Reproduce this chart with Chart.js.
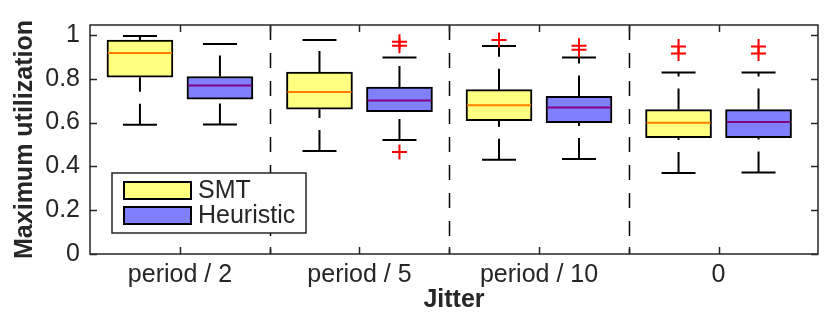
<!DOCTYPE html>
<html><head><meta charset="utf-8">
<script src="https://cdn.jsdelivr.net/npm/chart.js@4/dist/chart.umd.min.js"></script>
<style>html,body{margin:0;padding:0;background:#fff}#wrap{width:830px;height:313px}</style>
</head><body><div id="wrap"><canvas id="c" width="830" height="313"></canvas></div>
<script>
// ---- data ----
const categories = ['period / 2', 'period / 5', 'period / 10', '0'];
const seriesNames = ['SMT', 'Heuristic'];
const yTickValues = [0, 0.2, 0.4, 0.6, 0.8, 1];
const yTickLabels = ['0', '0.2', '0.4', '0.6', '0.8', '1'];

const smtLowerWhisker = [0.59, 0.47, 0.43, 0.37];
const smtQ1           = [0.807, 0.661, 0.608, 0.531];
const smtMedian       = [0.917, 0.739, 0.679, 0.599];
const smtQ3           = [0.976, 0.83, 0.75, 0.659];
const smtUpperWhisker = [0.995, 0.976, 0.949, 0.828];
const smtOutliers     = [[], [], [0.976], [0.947, 0.915]];

const heurLowerWhisker = [0.591, 0.52, 0.434, 0.372];
const heurQ1           = [0.706, 0.649, 0.599, 0.531];
const heurMedian       = [0.769, 0.701, 0.668, 0.602];
const heurQ3           = [0.81, 0.762, 0.719, 0.659];
const heurUpperWhisker = [0.958, 0.897, 0.897, 0.828];
const heurOutliers     = [[], [0.968, 0.95, 0.466], [0.95, 0.932], [0.947, 0.915]];

// ---- styling / layout ----
const FONT = "'Liberation Sans', Arial, Helvetica, sans-serif";
const INK = '#262626';
const FS = 25;
const GROUP_OFFSET = 0.2228;   // box position relative to group centre (x units)
const MED_HALF = 0.178;
const CAP_HALF = 0.0947;
const separators = [0.5, 1.5, 2.5];
const xMinorTicks = [0, 0.5, 1, 1.5, 2, 2.5, 3];

const series = [
  {name: seriesNames[0], lo: smtLowerWhisker, q1: smtQ1, med: smtMedian, q3: smtQ3, hi: smtUpperWhisker, out: smtOutliers,
   fill: '#ffff80', medColor: '#ff8000', offset: -GROUP_OFFSET},
  {name: seriesNames[1], lo: heurLowerWhisker, q1: heurQ1, med: heurMedian, q3: heurQ3, hi: heurUpperWhisker, out: heurOutliers,
   fill: '#8080ff', medColor: '#800080', offset: GROUP_OFFSET}
];

const datasets = [];
series.forEach(s => {
  datasets.push({
    type: 'bar', label: s.name,
    data: categories.map((c, i) => ({x: i + s.offset, y: [s.q1[i], s.q3[i]]})),
    backgroundColor: s.fill, borderColor: '#000', borderWidth: 2, borderSkipped: false,
    barThickness: 66, grouped: false, order: 5
  });
  const med = [], whisk = [], caps = [], outs = [];
  categories.forEach((c, i) => {
    const p = i + s.offset;
    med.push({x: p - MED_HALF, y: s.med[i]}, {x: p + MED_HALF, y: s.med[i]}, {x: p, y: null});
    whisk.push({x: p, y: s.lo[i]}, {x: p, y: s.q1[i]}, {x: p, y: null},
               {x: p, y: s.q3[i]}, {x: p, y: s.hi[i]}, {x: p, y: null});
    caps.push({x: p - CAP_HALF, y: s.lo[i]}, {x: p + CAP_HALF, y: s.lo[i]}, {x: p, y: null},
              {x: p - CAP_HALF, y: s.hi[i]}, {x: p + CAP_HALF, y: s.hi[i]}, {x: p, y: null});
    s.out[i].forEach(v => outs.push({x: p, y: v}));
  });
  datasets.push({type: 'line', label: s.name + ' median', data: med, borderColor: s.medColor, borderWidth: 2,
    pointRadius: 0, spanGaps: false, tension: 0, fill: false, order: 1});
  datasets.push({type: 'line', label: s.name + ' whiskers', data: whisk, borderColor: '#000', borderWidth: 2,
    borderDash: [21, 12], pointRadius: 0, spanGaps: false, tension: 0, fill: false, order: 3});
  datasets.push({type: 'line', label: s.name + ' caps', data: caps, borderColor: '#000', borderWidth: 2,
    pointRadius: 0, spanGaps: false, tension: 0, fill: false, order: 2});
  datasets.push({type: 'scatter', label: s.name + ' outliers', data: outs, showLine: false,
    pointStyle: 'cross', pointRadius: 7.5, pointBorderColor: '#ff0000', pointBorderWidth: 2,
    borderColor: '#ff0000', backgroundColor: '#ff0000', order: 0});
});

const decor = {
  id: 'decor',
  beforeDatasetsDraw(chart) {
    const {ctx, chartArea: a, scales: {x}} = chart;
    ctx.save();
    ctx.strokeStyle = '#000'; ctx.lineWidth = 1.5; ctx.setLineDash([15, 13]);
    separators.forEach(v => {
      const px = Math.round(x.getPixelForValue(v)) + 0.5;
      ctx.beginPath(); ctx.moveTo(px, a.top); ctx.lineTo(px, a.bottom); ctx.stroke();
    });
    ctx.restore();
  },
  afterDraw(chart) {
    const {ctx, chartArea: a, scales: {x, y}} = chart;
    ctx.save();
    ctx.strokeStyle = INK; ctx.lineWidth = 1.5; ctx.setLineDash([]);
    ctx.strokeRect(a.left, a.top, a.right - a.left, a.bottom - a.top);
    const TL = 7;
    ctx.beginPath();
    yTickValues.forEach(v => {
      const py = Math.round(y.getPixelForValue(v)) + 0.5;
      ctx.moveTo(a.left, py); ctx.lineTo(a.left + TL, py);
      ctx.moveTo(a.right, py); ctx.lineTo(a.right - TL, py);
    });
    xMinorTicks.forEach(v => {
      const px = Math.round(x.getPixelForValue(v)) + 0.5;
      ctx.moveTo(px, a.bottom); ctx.lineTo(px, a.bottom - TL);
      ctx.moveTo(px, a.top); ctx.lineTo(px, a.top + TL);
    });
    ctx.stroke();

    // legend
    const L = {x: 112, y: 173, w: 194, h: 60};
    ctx.fillStyle = '#fff';
    ctx.fillRect(L.x, L.y, L.w, L.h);
    ctx.lineWidth = 1.5; ctx.strokeStyle = INK;
    ctx.strokeRect(L.x, L.y, L.w, L.h);
    series.forEach((s, k) => {
      const sy = L.y + 9 + k * 25;
      ctx.fillStyle = s.fill;
      ctx.fillRect(124, sy, 67, 17);
      ctx.lineWidth = 2; ctx.strokeStyle = '#000';
      ctx.strokeRect(124, sy, 67, 17);
      ctx.fillStyle = INK;
      ctx.font = FS + 'px ' + FONT;
      ctx.textBaseline = 'middle'; ctx.textAlign = 'left';
      ctx.fillText(s.name, 198, sy + 9.5);
    });
    ctx.restore();
  }
};

new Chart(document.getElementById('c'), {
  type: 'bar',
  data: {datasets},
  options: {
    responsive: false, animation: false,
    layout: {padding: {top: 24, right: 12, left: 0, bottom: 0}},
    plugins: {legend: {display: false}, tooltip: {enabled: false}},
    scales: {
      x: {
        type: 'linear', min: -0.501, max: 3.554, offset: false,
        grid: {display: false, drawTicks: false, offset: false}, border: {display: false},
        afterBuildTicks: s => { s.ticks = categories.map((c, i) => ({value: i})); },
        afterFit: s => { s.height = 59; },
        ticks: {padding: 6, color: INK, font: {family: FONT, size: FS}, maxRotation: 0, autoSkip: false,
                callback: v => categories[Math.round(v)]},
        title: {display: true, text: 'Jitter', color: INK, padding: {top: 0, bottom: 0},
                font: {family: FONT, size: FS, weight: 'bold', lineHeight: 1}}
      },
      y: {
        type: 'linear', min: 0, max: 1.045,
        grid: {display: false, drawTicks: false}, border: {display: false},
        afterBuildTicks: s => { s.ticks = yTickValues.map(v => ({value: v})); },
        afterFit: s => { s.width = 90; },
        ticks: {padding: 10, color: INK, font: {family: FONT, size: FS},
                callback: v => yTickLabels[yTickValues.indexOf(v)] ?? ''},
        title: {display: true, text: 'Maximum utilization', color: INK, padding: {top: 13, bottom: 0},
                font: {family: FONT, size: FS, weight: 'bold', lineHeight: 1}}
      }
    }
  },
  plugins: [decor]
});
</script>
</body></html>
